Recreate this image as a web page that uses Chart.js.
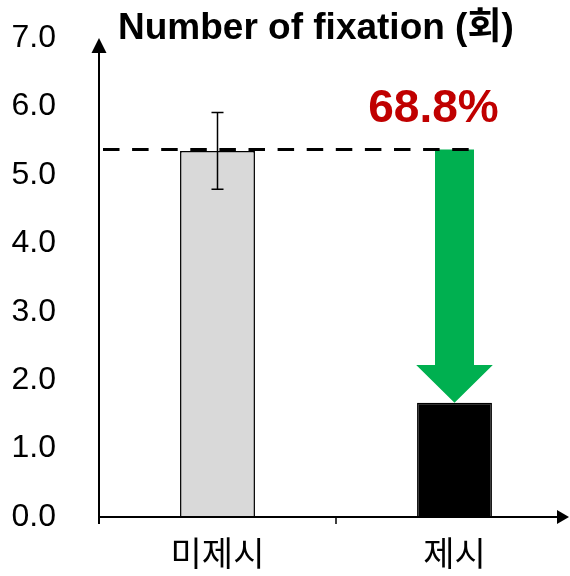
<!DOCTYPE html>
<html>
<head>
<meta charset="utf-8">
<script src="https://cdn.jsdelivr.net/npm/chart.js@4.4.1/dist/chart.umd.min.js"></script>
<style>
  html, body { margin: 0; padding: 0; overflow: hidden; background: #fff; width: 570px; height: 576px; }
  canvas { display: block; }
</style>
</head>
<body>
<canvas id="c" width="573" height="576"></canvas>
<script>
// Mean number of fixations per condition, with error bar half-lengths
const categories = ['미제시', '제시'];
const fixations = [5.35, 1.67];
const errors = [0.56, 0];
const yTicks = [0, 1, 2, 3, 4, 5, 6, 7];
const titleText = 'Number of fixation (회)';
const barColors = ['#D9D9D9', '#000000'];

const reduction = ((1 - fixations[1] / fixations[0]) * 100).toFixed(1) + '%';

const LATIN = '"Liberation Sans", "Noto Sans CJK KR", sans-serif';
const KOREAN = '"Noto Sans CJK KR", "Liberation Sans", sans-serif';

// Green arrow from the baseline level down to the second bar, plus the dashed reference line
const annotations = {
  id: 'annotations',
  afterDatasetsDraw(chart) {
    const { ctx, chartArea: a } = chart;
    const bars = chart.getDatasetMeta(0).data;
    const levelY = bars[0].y - 1.5;
    const cx = bars[1].x;
    const tipY = bars[1].y;
    const shaft = 19.5, head = 38.3, headH = 37.7;

    ctx.save();
    ctx.fillStyle = '#00B050';
    ctx.beginPath();
    ctx.moveTo(cx - shaft, levelY);
    ctx.lineTo(cx + shaft, levelY);
    ctx.lineTo(cx + shaft, tipY - headH);
    ctx.lineTo(cx + head, tipY - headH);
    ctx.lineTo(cx, tipY);
    ctx.lineTo(cx - head, tipY - headH);
    ctx.lineTo(cx - shaft, tipY - headH);
    ctx.closePath();
    ctx.fill();

    ctx.strokeStyle = '#000';
    ctx.lineWidth = 3;
    ctx.setLineDash([16.5, 12.6]);
    ctx.beginPath();
    ctx.moveTo(a.left + 4, levelY);
    ctx.lineTo(cx + 15, levelY);
    ctx.stroke();
    ctx.setLineDash([]);

    // error bars
    const yS = chart.scales.y;
    ctx.lineWidth = 1.5;
    bars.forEach((bar, i) => {
      if (!errors[i]) return;
      const hi = yS.getPixelForValue(fixations[i] + errors[i]);
      const lo = yS.getPixelForValue(fixations[i] - errors[i]);
      ctx.beginPath();
      ctx.moveTo(bar.x, hi); ctx.lineTo(bar.x, lo);
      ctx.moveTo(bar.x - 6, hi); ctx.lineTo(bar.x + 6, hi);
      ctx.moveTo(bar.x - 6, lo); ctx.lineTo(bar.x + 6, lo);
      ctx.stroke();
    });

    // reduction label
    ctx.fillStyle = '#C00000';
    ctx.font = 'bold 46px ' + LATIN;
    ctx.textAlign = 'center';
    ctx.textBaseline = 'alphabetic';
    ctx.fillText(reduction, cx - 21, levelY - 27);
    ctx.restore();
  }
};

// Axis lines with arrowheads, category tick marks and the title
const axes = {
  id: 'axes',
  afterDraw(chart) {
    const { ctx, chartArea: a, scales: { x, y } } = chart;
    const y0 = y.getPixelForValue(0);
    const yTop = y.getPixelForValue(yTicks[yTicks.length - 1]);
    const ax = a.left;
    const xEnd = 569;
    ctx.save();
    ctx.strokeStyle = '#000';
    ctx.fillStyle = '#000';
    ctx.lineWidth = 2;
    ctx.beginPath();
    ctx.moveTo(ax, y0 + 7);
    ctx.lineTo(ax, yTop + 14);
    ctx.moveTo(ax, y0);
    ctx.lineTo(xEnd - 12, y0);
    ctx.stroke();

    ctx.beginPath();
    ctx.moveTo(ax, yTop);
    ctx.lineTo(ax - 7.5, yTop + 15);
    ctx.lineTo(ax + 7.5, yTop + 15);
    ctx.closePath();
    ctx.fill();

    ctx.beginPath();
    ctx.moveTo(xEnd, y0);
    ctx.lineTo(xEnd - 12, y0 - 7);
    ctx.lineTo(xEnd - 12, y0 + 7);
    ctx.closePath();
    ctx.fill();

    ctx.lineWidth = 1.5;
    for (let i = 1; i < categories.length; i++) {
      const bx = (x.getPixelForValue(i - 1) + x.getPixelForValue(i)) / 2;
      ctx.beginPath();
      ctx.moveTo(bx, y0);
      ctx.lineTo(bx, y0 + 7);
      ctx.stroke();
    }

    ctx.font = 'bold 37px ' + LATIN;
    ctx.textAlign = 'left';
    ctx.textBaseline = 'alphabetic';
    ctx.fillText(titleText, 118, 39);
    ctx.restore();
  }
};

new Chart(document.getElementById('c'), {
  type: 'bar',
  data: {
    labels: categories,
    datasets: [{
      data: fixations,
      backgroundColor: barColors,
      borderColor: '#000',
      borderWidth: 1.5,
      barPercentage: 0.316,
      categoryPercentage: 1
    }]
  },
  options: {
    responsive: false,
    animation: false,
    events: [],
    layout: { padding: { top: 38, right: 0, left: 0, bottom: 0 } },
    plugins: { legend: { display: false }, tooltip: { enabled: false }, title: { display: false } },
    scales: {
      x: {
        grid: { display: false, drawTicks: false },
        border: { display: false },
        ticks: { color: '#000', padding: 15.6, font: { family: KOREAN, size: 34 } },
        afterFit(scale) {
          scale.height = 59;
          scale.paddingLeft = 0; scale.paddingRight = 0;
          scale.paddingTop = 0; scale.paddingBottom = 0;
        }
      },
      y: {
        min: yTicks[0],
        max: yTicks[yTicks.length - 1],
        grid: { display: false, drawTicks: false },
        border: { display: false },
        afterBuildTicks(scale) { scale.ticks = yTicks.map(v => ({ value: v })); },
        ticks: {
          color: '#000',
          padding: 43,
          font: { family: LATIN, size: 32 },
          callback: v => Number(v).toFixed(1)
        },
        afterFit(scale) {
          scale.width = 99;
          scale.paddingTop = 0; scale.paddingBottom = 0;
          scale.paddingLeft = 0; scale.paddingRight = 0;
        }
      }
    }
  },
  plugins: [annotations, axes]
});
</script>
</body>
</html>
